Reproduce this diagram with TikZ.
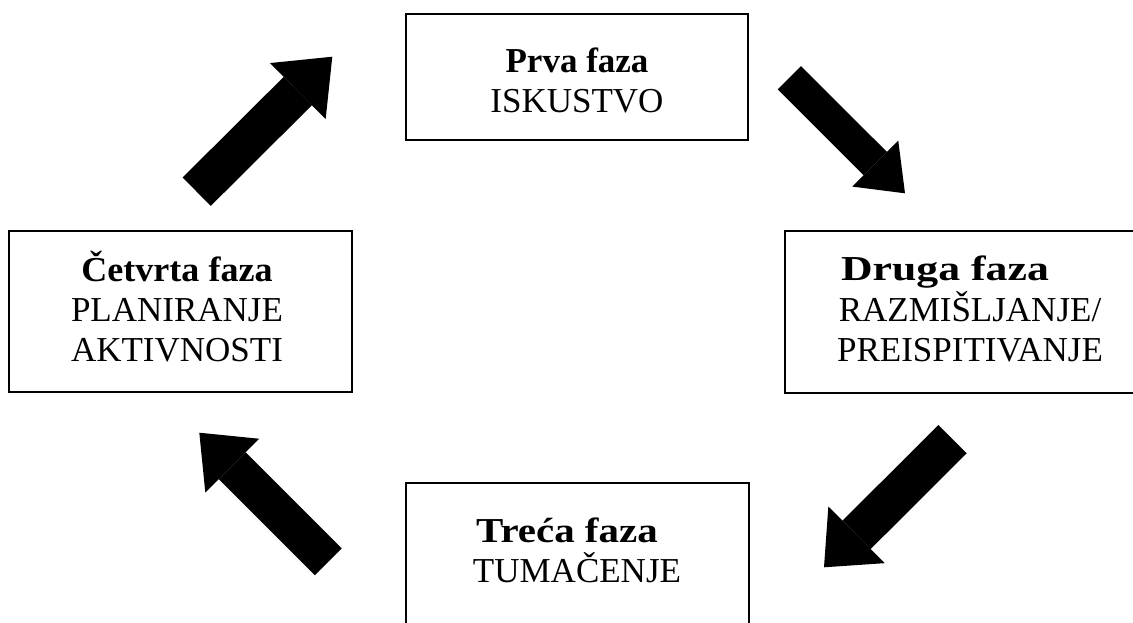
\documentclass[tikz,border=0pt]{standalone}
\usepackage{fontspec}
\setmainfont{Liberation Serif}
\usetikzlibrary{arrows.meta}
\begin{document}
\begin{tikzpicture}[x=1pt,y=-1pt,
  box/.style={draw, line width=1.6pt, rectangle, inner sep=0pt, outer sep=0pt},
  lbl/.style={anchor=base, inner sep=0pt, font=\fontsize{35}{40}\selectfont},
  hd/.style={anchor=base, inner sep=0pt, font=\fontsize{35}{40}\selectfont\bfseries},
  bigarrow/.style n args={3}{line width=#1, -{Triangle[length=#3, width=#2, line width=0pt]}}]
\useasboundingbox (0,0) rectangle (1133,622);
\clip (0,0) rectangle (1133,622);
% boxes
\node[box, minimum width=342pt, minimum height=126pt] (b1) at (577,77) {};
\node[box, minimum width=366pt, minimum height=162pt] (b2) at (968,312) {};
\node[box, minimum width=343pt, minimum height=167pt] (b3) at (577.5,566.5) {};
\node[box, minimum width=343pt, minimum height=161pt] (b4) at (180.5,311.5) {};
% texts
\node[hd]  (t1a) at (577,72)  {Prva faza};
\node[lbl] (t1b) at (577,112) {ISKUSTVO};
\node[hd]  (t2a) at (945,280) {\scalebox{1.25}[1]{Druga faza}};
\node[lbl] (t2b) at (970,321) {RAZMIŠLJANJE/};
\node[lbl] (t2c) at (970,361) {PREISPITIVANJE};
\node[hd]  (t3a) at (567,542) {\scalebox{1.17}[1]{Treća faza}};
\node[lbl] (t3b) at (577,582) {TUMAČENJE};
\node[hd]  (t4a) at (177,281) {\scalebox{1.03}[1]{Četvrta faza}};
\node[lbl] (t4b) at (177,321) {PLANIRANJE};
\node[lbl] (t4c) at (177,361) {AKTIVNOSTI};
% arrows
\coordinate (a1s) at (196.7,191.7);
\coordinate (a1e) at (332.3,56.7);
\coordinate (a2s) at (789.3,77.7);
\coordinate (a2e) at (905,193.3);
\coordinate (a3s) at (952.5,439.2);
\coordinate (a3e) at (824,567.3);
\coordinate (a4s) at (328.3,561.7);
\coordinate (a4e) at (199.3,432.7);
\draw[bigarrow={40pt}{79pt}{48.7pt}] (a1s) -- (a1e);
\draw[bigarrow={33pt}{65pt}{42pt}] (a2s) -- (a2e);
\draw[bigarrow={40pt}{80pt}{46pt}] (a3s) -- (a3e);
\draw[bigarrow={38pt}{76pt}{46.5pt}] (a4s) -- (a4e);
\end{tikzpicture}
\end{document}
